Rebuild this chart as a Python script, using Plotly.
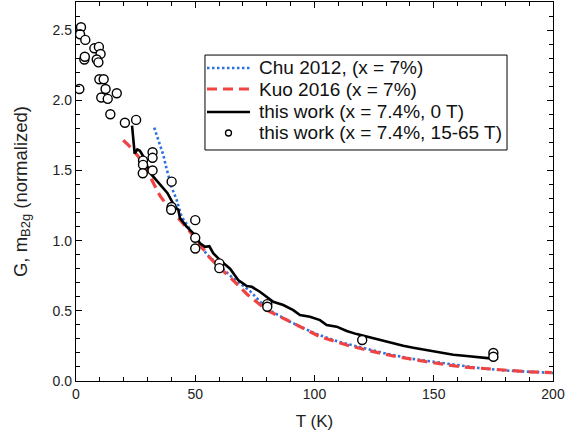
import plotly.graph_objects as go

# Chu 2012 (x = 7%)
chu_T = [32.8, 34.5, 36.6, 38.0, 40.1, 42.2, 44.3, 47.1, 50.0, 55.0, 60.0, 66.0,
         73.0, 80.0, 90.0, 100.0, 110.0, 120.0, 130.0, 140.0, 150.0, 160.0,
         170.0, 180.0, 190.0, 200.0]
chu_G = [1.805, 1.715, 1.61, 1.51, 1.38, 1.29, 1.17, 1.10, 1.01, 0.90, 0.82, 0.73,
         0.64, 0.515, 0.42, 0.34, 0.28, 0.235, 0.195, 0.16, 0.135, 0.11,
         0.09, 0.075, 0.065, 0.057]

# Kuo 2016 (x = 7%)
kuo_T = [19.8, 22.0, 26.1, 30.0, 35.2, 40.0, 44.0, 48.0, 52.0, 56.0, 60.0, 64.6,
         71.6, 80.0, 92.5, 102.3, 113.5, 119.0, 124.7, 133.0, 147.0, 161.0,
         175.0, 189.0, 199.5]
kuo_G = [1.715, 1.68, 1.60, 1.49, 1.32, 1.21, 1.14, 1.06, 0.97, 0.88, 0.81, 0.74,
         0.62, 0.505, 0.40, 0.315, 0.256, 0.232, 0.209, 0.178, 0.137, 0.102,
         0.083, 0.066, 0.059]

# this work, 0 T
zero_T = [23.5, 24.6, 25.7, 26.8, 28.2, 29.9, 31.7, 35.2, 36.6, 38.3, 41.5, 42.9,
          43.6, 46.4, 49.9, 52.0, 54.1, 55.9, 57.6, 60.4, 64.6, 68.0, 71.6, 73.7,
          77.1, 80.0, 82.7, 86.9, 91.1, 93.9, 98.1, 102.3, 105.1, 109.3, 113.5,
          117.7, 121.9, 127.5, 133.0, 137.2, 141.4, 147.0, 152.6, 158.2, 163.8,
          169.4, 173.6, 177.0]
zero_G = [1.82, 1.62, 1.65, 1.64, 1.60, 1.53, 1.47, 1.40, 1.38, 1.34, 1.24, 1.22,
          1.16, 1.10, 1.04, 0.98, 0.956, 0.96, 0.909, 0.861, 0.80, 0.719, 0.676,
          0.671, 0.636, 0.60, 0.564, 0.541, 0.505, 0.47, 0.458, 0.434, 0.399,
          0.387, 0.356, 0.334, 0.315, 0.295, 0.268, 0.251, 0.237, 0.22, 0.204,
          0.187, 0.178, 0.166, 0.161, 0.161]

# this work, 15-65 T pulsed field
pulse_T = [1.4, 2.1, 1.7, 3.9, 3.5, 3.7, 7.7, 9.6, 10.3, 8.7, 9.4, 9.8, 11.6, 12.4,
           10.6, 13.3, 17.1, 14.4, 20.5, 25.2, 28.1, 28.1, 28.0, 32.1, 32.1, 32.1,
           40.1, 40.1, 39.9, 50.0, 50.0, 50.0, 60.1, 60.1, 80.2, 80.2, 120.0,
           175.0, 175.0]
pulse_G = [2.08, 2.52, 2.47, 2.43, 2.29, 2.31, 2.37, 2.38, 2.33, 2.29, 2.27, 2.15,
           2.15, 2.08, 2.02, 2.01, 2.05, 1.90, 1.84, 1.86, 1.57, 1.54, 1.48, 1.63,
           1.59, 1.50, 1.42, 1.24, 1.22, 1.146, 1.02, 0.944, 0.838, 0.804, 0.548,
           0.529, 0.292, 0.20, 0.173]

series_names = ["Chu 2012, (x = 7%)", "Kuo 2016 (x = 7%)",
                "this work (x = 7.4%, 0 T)", "this work (x = 7.4%, 15-65 T)"]

FONT = "Liberation Sans, Arial, sans-serif"
BLUE = "#2a72e0"
RED = "#f04444"

chu_line = dict(color=BLUE, width=2.6, dash="2.5px,2.5px")
kuo_line = dict(color=RED, width=3.2, dash="10px,6px")
zero_line = dict(color="black", width=2.6)

fig = go.Figure()
fig.add_trace(go.Scatter(x=chu_T, y=chu_G, mode="lines", name=series_names[0],
                         line=chu_line, showlegend=False))
fig.add_trace(go.Scatter(x=kuo_T, y=kuo_G, mode="lines", name=series_names[1],
                         line=kuo_line, showlegend=False))
fig.add_trace(go.Scatter(x=zero_T, y=zero_G, mode="lines", name=series_names[2],
                         line=zero_line, showlegend=False))
fig.add_trace(go.Scatter(x=pulse_T, y=pulse_G, mode="markers", name=series_names[3],
                         showlegend=False,
                         marker=dict(symbol="circle", size=9, color="white",
                                     line=dict(color="black", width=1.4))))

# Boxed key drawn in paper coordinates (compact row spacing)
box_x0, box_x1, box_y0, box_y1 = 0.2704, 0.9036, 0.6095, 0.8600
row_y = [0.8259, 0.7704, 0.7098, 0.6544]
samp_x0, samp_x1, text_x = 0.2746, 0.3648, 0.3795

shapes = [dict(type="rect", xref="paper", yref="paper",
               x0=box_x0, x1=box_x1, y0=box_y0, y1=box_y1,
               line=dict(color="black", width=1), fillcolor="white", layer="above")]
for y, ln in zip(row_y[:3], [chu_line, kuo_line, zero_line]):
    shapes.append(dict(type="line", xref="paper", yref="paper",
                       x0=samp_x0, x1=samp_x1, y0=y, y1=y,
                       line=ln, layer="above"))
shapes.append(dict(type="circle", xref="paper", yref="paper",
                   xsizemode="pixel", ysizemode="pixel",
                   xanchor=(samp_x0 + samp_x1) / 2, yanchor=row_y[3],
                   x0=-3, x1=3, y0=-3, y1=3,
                   line=dict(color="black", width=1.3), fillcolor="white",
                   layer="above"))

annotations = [dict(xref="paper", yref="paper", x=text_x, y=y, text=t,
                    xanchor="left", yanchor="middle", showarrow=False,
                    font=dict(family=FONT, size=19, color="#111"))
               for y, t in zip(row_y, series_names)]

axis_common = dict(
    showline=True, linecolor="black", linewidth=1.3, mirror="ticks",
    ticks="inside", ticklen=6, tickwidth=1.1, tickcolor="black",
    showgrid=False, zeroline=False,
    tickfont=dict(family=FONT, size=14, color="#222"),
)

fig.update_xaxes(
    range=[0, 200], tick0=0, dtick=50,
    minor=dict(ticks="inside", dtick=10, ticklen=3.5, tickwidth=1, tickcolor="black"),
    title=dict(text="T (K)", font=dict(family=FONT, size=17, color="#222"), standoff=14),
    **axis_common)
fig.update_yaxes(
    range=[0, 2.7], tick0=0, dtick=0.5, tickformat=".1f",
    minor=dict(ticks="inside", dtick=0.1, ticklen=3.5, tickwidth=1, tickcolor="black"),
    title=dict(text="G, m<sub>B2g</sub> (normalized)",
               font=dict(family=FONT, size=18.5, color="#222"), standoff=20),
    **axis_common)

fig.update_layout(
    width=580, height=437,
    margin=dict(l=76, r=27, t=2, b=56),
    plot_bgcolor="white", paper_bgcolor="white",
    font=dict(family=FONT, size=15, color="#222"),
    showlegend=False,
    shapes=shapes,
    annotations=annotations,
)

fig.write_html("out.html")
